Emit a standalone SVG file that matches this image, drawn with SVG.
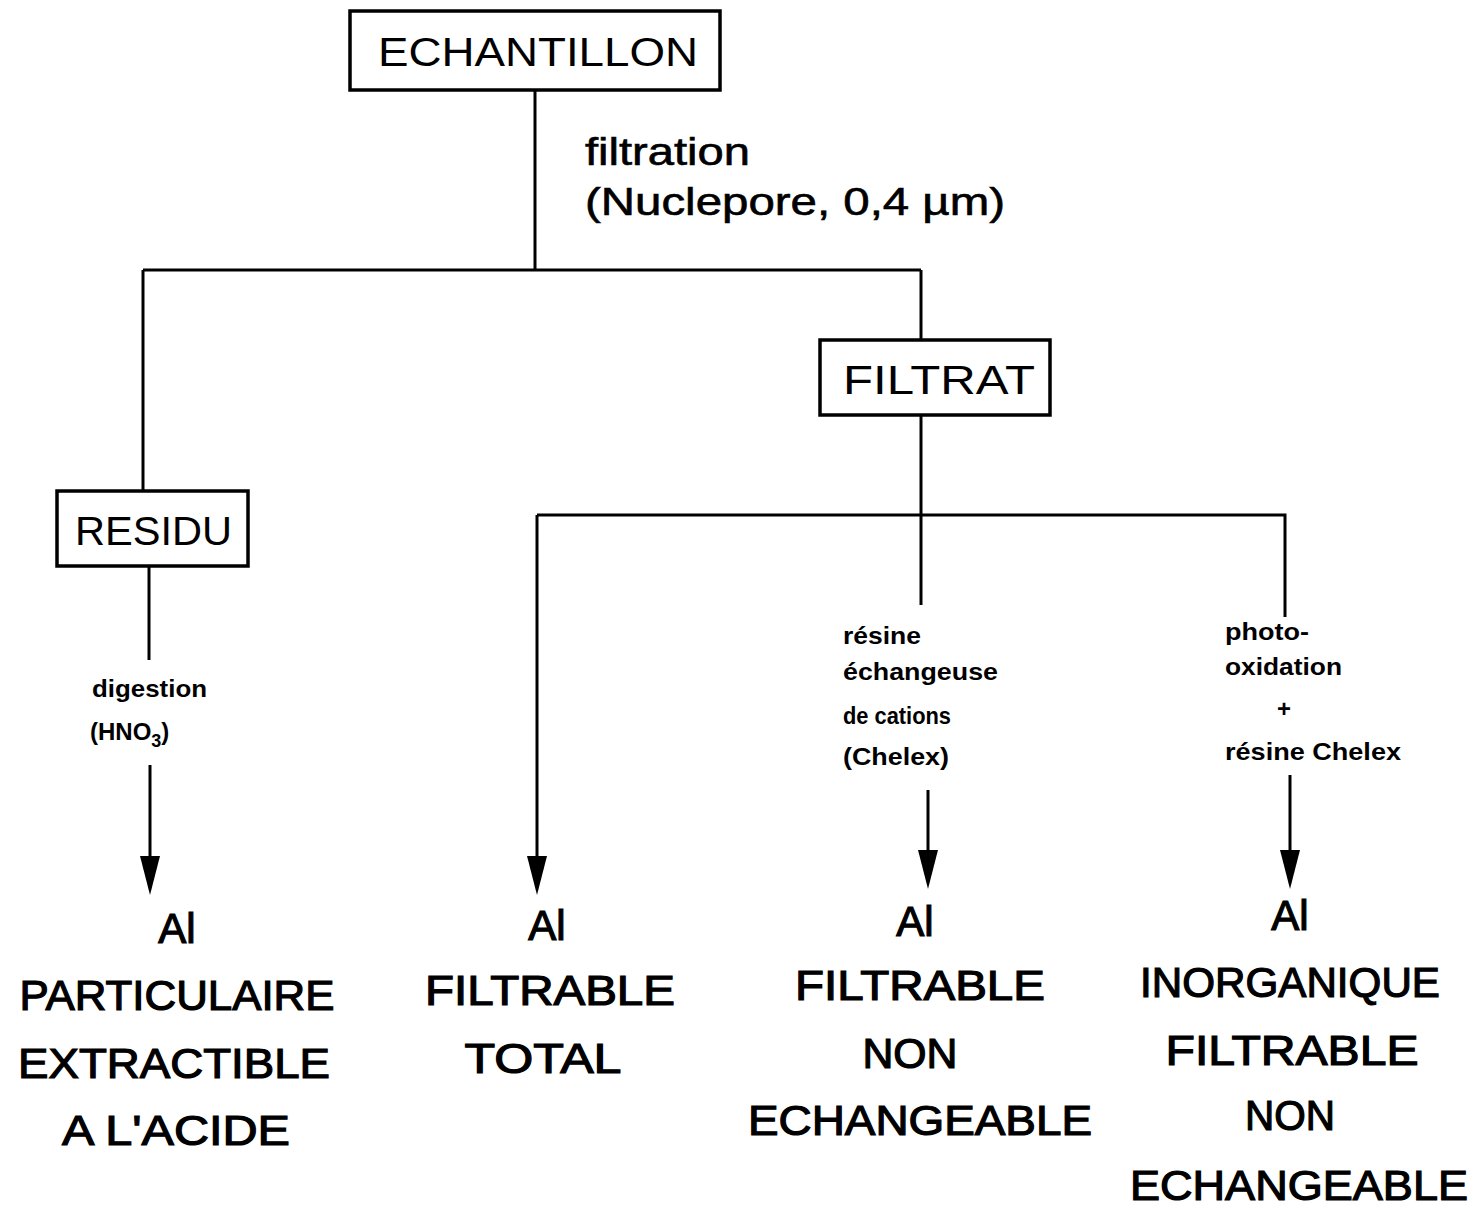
<svg xmlns="http://www.w3.org/2000/svg" width="1476" height="1208" viewBox="0 0 1476 1208">
<style>
.box{fill:none;stroke:#000;stroke-width:3.5}
.ln{fill:none;stroke:#000;stroke-width:3}
.big{font-family:"Liberation Sans",Arial,sans-serif;font-size:42px;fill:#000;stroke:#000;stroke-width:1.2;text-anchor:middle}
.box-t{font-family:"Liberation Sans",Arial,sans-serif;font-size:40px;fill:#000}
.mid{font-family:"Liberation Sans",Arial,sans-serif;font-size:38px;fill:#000;stroke:#000;stroke-width:0.6}
.sm{font-family:"Liberation Sans",Arial,sans-serif;font-size:24px;font-weight:bold;fill:#000}
</style>
<rect width="1476" height="1208" fill="#fff"/>
<g id="connectors">
<path class="ln" d="M535,90 V270"/>
<path class="ln" d="M143,270 H921"/>
<path class="ln" d="M143,270 V490"/>
<path class="ln" d="M921,270 V340"/>
<path class="ln" d="M149,566 V660"/>
<path class="ln" d="M150,765 V858"/>
<path d="M140,856 L160,856 L150,895 Z" fill="#000"/>
<path class="ln" d="M921,415 V605"/>
<path class="ln" d="M537,515 H1285 V617"/>
<path class="ln" d="M537,515 V858"/>
<path d="M527,856 L547,856 L537,895 Z" fill="#000"/>
<path class="ln" d="M928,790 V852"/>
<path d="M918,850 L938,850 L928,889 Z" fill="#000"/>
<path class="ln" d="M1290,775 V852"/>
<path d="M1280,850 L1300,850 L1290,889 Z" fill="#000"/>
</g>
<g id="echantillon">
<rect class="box" x="350" y="11" width="370" height="79"/>
<text class="box-t" x="378" y="66" textLength="320" lengthAdjust="spacingAndGlyphs">ECHANTILLON</text>
</g>
<g id="filtration-label">
<text class="mid" x="585" y="165" textLength="165" lengthAdjust="spacingAndGlyphs">filtration</text>
<text class="mid" x="585" y="215" textLength="420" lengthAdjust="spacingAndGlyphs">(Nuclepore, 0,4 µm)</text>
</g>
<g id="filtrat">
<rect class="box" x="820" y="340" width="230" height="75"/>
<text class="box-t" x="843" y="394" textLength="192" lengthAdjust="spacingAndGlyphs">FILTRAT</text>
</g>
<g id="residu">
<rect class="box" x="57" y="491" width="191" height="75"/>
<text class="box-t" x="75" y="545" textLength="157" lengthAdjust="spacingAndGlyphs">RESIDU</text>
</g>
<g id="digestion-label">
<text class="sm" x="92" y="697" textLength="115" lengthAdjust="spacingAndGlyphs">digestion</text>
<text class="sm" x="90" y="740">(HNO<tspan font-size="18" dy="7">3</tspan><tspan dy="-7">)</tspan></text>
</g>
<g id="resine-label">
<text class="sm" x="843" y="644" textLength="78" lengthAdjust="spacingAndGlyphs">résine</text>
<text class="sm" x="843" y="680" textLength="155" lengthAdjust="spacingAndGlyphs">échangeuse</text>
<text class="sm" x="843" y="724" textLength="108" lengthAdjust="spacingAndGlyphs">de cations</text>
<text class="sm" x="843" y="765" textLength="106" lengthAdjust="spacingAndGlyphs">(Chelex)</text>
</g>
<g id="photo-label">
<text class="sm" x="1225" y="640" textLength="84" lengthAdjust="spacingAndGlyphs">photo-</text>
<text class="sm" x="1225" y="675" textLength="117" lengthAdjust="spacingAndGlyphs">oxidation</text>
<text class="sm" x="1284" y="717" text-anchor="middle">+</text>
<text class="sm" x="1225" y="760" textLength="176" lengthAdjust="spacingAndGlyphs">résine Chelex</text>
</g>
<g id="al-particulaire">
<text class="big" x="177" y="943">Al</text>
<text class="big" x="177" y="1010" textLength="315" lengthAdjust="spacingAndGlyphs">PARTICULAIRE</text>
<text class="big" x="174" y="1078" textLength="312" lengthAdjust="spacingAndGlyphs">EXTRACTIBLE</text>
<text class="big" x="176" y="1145" textLength="228" lengthAdjust="spacingAndGlyphs">A L'ACIDE</text>
</g>
<g id="al-filtrable-total">
<text class="big" x="547" y="940">Al</text>
<text class="big" x="550" y="1005" textLength="250" lengthAdjust="spacingAndGlyphs">FILTRABLE</text>
<text class="big" x="543" y="1073" textLength="157" lengthAdjust="spacingAndGlyphs">TOTAL</text>
</g>
<g id="al-filtrable-non-echangeable">
<text class="big" x="915" y="936">Al</text>
<text class="big" x="920" y="1000" textLength="250" lengthAdjust="spacingAndGlyphs">FILTRABLE</text>
<text class="big" x="910" y="1068" textLength="95" lengthAdjust="spacingAndGlyphs">NON</text>
<text class="big" x="920" y="1135" textLength="344" lengthAdjust="spacingAndGlyphs">ECHANGEABLE</text>
</g>
<g id="al-inorganique">
<text class="big" x="1290" y="930">Al</text>
<text class="big" x="1290" y="997" textLength="300" lengthAdjust="spacingAndGlyphs">INORGANIQUE</text>
<text class="big" x="1292" y="1065" textLength="253" lengthAdjust="spacingAndGlyphs">FILTRABLE</text>
<text class="big" x="1290" y="1130" textLength="90" lengthAdjust="spacingAndGlyphs">NON</text>
<text class="big" x="1299" y="1200" textLength="338" lengthAdjust="spacingAndGlyphs">ECHANGEABLE</text>
</g>
</svg>
